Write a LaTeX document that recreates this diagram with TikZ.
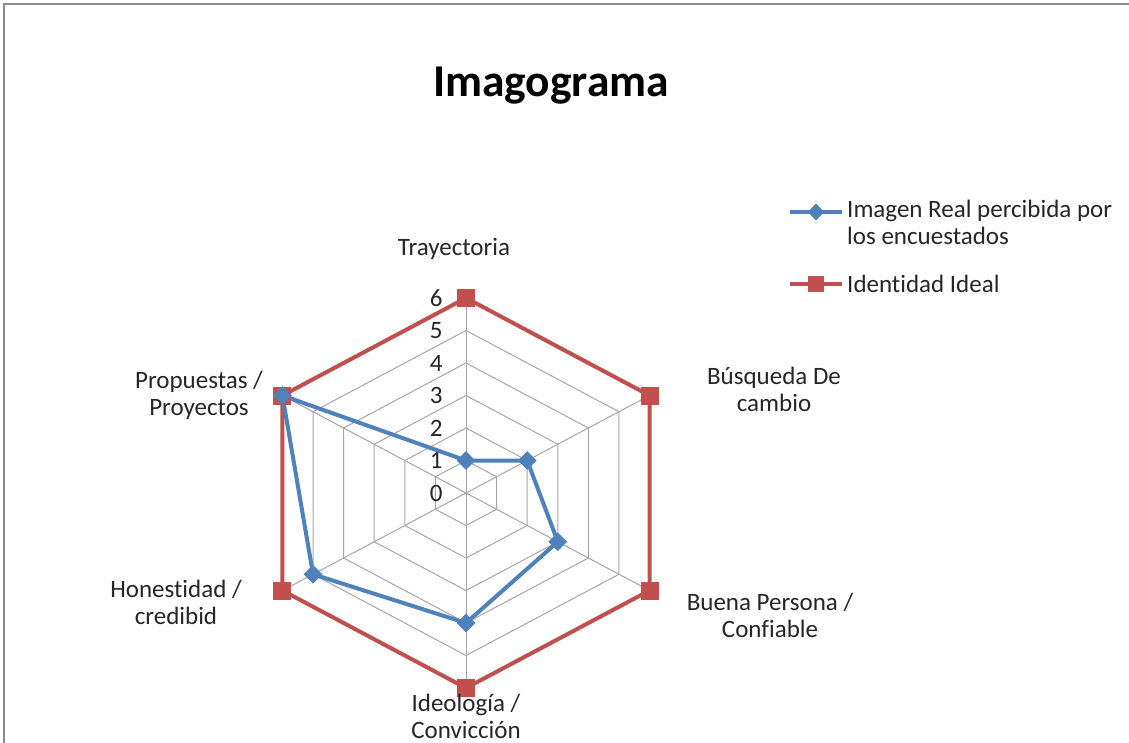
\documentclass[tikz,border=0pt]{standalone}
\usepackage{fontspec}
\setmainfont{Carlito}[Ligatures=NoCommon]
\usetikzlibrary{shapes.geometric}
\definecolor{sblue}{HTML}{4F81BD}
\definecolor{sred}{HTML}{C0504D}
\definecolor{gridc}{HTML}{A6A6A6}
\definecolor{framec}{HTML}{8C8C8C}
\definecolor{txt}{HTML}{262626}
\begin{document}
\begin{tikzpicture}[x=1pt,y=-1pt,
  lbl/.style={font=\fontsize{25}{27}\selectfont, align=center, text=txt, inner sep=0pt},
  tick/.style={font=\fontsize{25}{27}\selectfont, text=txt, inner sep=0pt, anchor=east},
  gridline/.style={draw=gridc, line width=1pt},
  redline/.style={draw=sred, line width=4pt, line join=round},
  blueline/.style={draw=sblue, line width=4pt, line join=round},
  redmark/.style={rectangle, fill=sred, minimum size=18pt, inner sep=0pt},
  bluemark/.style={diamond, fill=sblue, minimum size=19pt, inner sep=0pt}]
\useasboundingbox (0,0) rectangle (1129,743);
\fill[white] (0,0) rectangle (1129,743);
\draw[framec, line width=2pt] (4,743) -- (4,4) -- (1129,4);

\node[font=\fontsize{45.5}{54}\selectfont\bfseries, text=black, inner sep=0pt, anchor=base] (title) at (551,97) {Imagograma};

\begin{scope}[shift={(466,493)}, x={(35.33pt,0pt)}, y={(0pt,32.5pt)}]
  % grid
  \foreach \r in {1,...,6}{
    \draw[gridline] (90:\r) -- (30:\r) -- (-30:\r) -- (-90:\r) -- (-150:\r) -- (150:\r) -- cycle;
  }
  \foreach \a in {90,30,-30,-90,-150,150}{
    \draw[gridline] (0,0) -- (\a:6);
  }
  % ticks
  \foreach \v in {0,...,6}{
    \node[tick] (t\v) at (-0.66,\v) {\v};
  }
  % ideal identity
  \coordinate (r1) at (90:6);
  \coordinate (r2) at (30:6);
  \coordinate (r3) at (-30:6);
  \coordinate (r4) at (-90:6);
  \coordinate (r5) at (-150:6);
  \coordinate (r6) at (150:6);
  \draw[redline] (r1) -- (r2) -- (r3) -- (r4) -- (r5) -- (r6) -- cycle;
  % real image
  \coordinate (b1) at (90:1);
  \coordinate (b2) at (30:2);
  \coordinate (b3) at (-30:3);
  \coordinate (b4) at (-90:4);
  \coordinate (b5) at (-150:5);
  \coordinate (b6) at (150:6);
  \draw[blueline] (b1) -- (b2) -- (b3) -- (b4) -- (b5) -- (b6) -- cycle;
  \foreach \i in {1,...,6}{
    \node[redmark] (rm\i) at (r\i) {};
  }
  \foreach \i in {1,...,6}{
    \node[bluemark] (bm\i) at (b\i) {};
  }
\end{scope}

% axis labels
\node[lbl] (l1) at (454,249) {Trayectoria};
\node[lbl] (l2) at (774,389) {Búsqueda De\\cambio};
\node[lbl] (l3) at (770,615) {Buena Persona /\\Confiable};
\node[lbl] (l4) at (466,716) {Ideología /\\Convicción};
\node[lbl] (l5) at (176,602) {Honestidad /\\credibid};
\node[lbl] (l6) at (199,395) {Propuestas /\\Proyectos};

% legend
\coordinate (lb0) at (790,212);
\coordinate (lb1) at (842,212);
\draw[blueline] (lb0) -- (lb1);
\node[bluemark, minimum size=17pt] (lbm) at (816,212) {};
\node[lbl, align=left, anchor=north west] (lbt) at (847,200) {Imagen Real percibida por\\los encuestados};
\coordinate (lr0) at (790,284);
\coordinate (lr1) at (842,284);
\draw[redline] (lr0) -- (lr1);
\node[redmark, minimum size=16pt] (lrm) at (816,284) {};
\node[lbl, anchor=west] (lrt) at (847,284) {Identidad Ideal};
\end{tikzpicture}
\end{document}
